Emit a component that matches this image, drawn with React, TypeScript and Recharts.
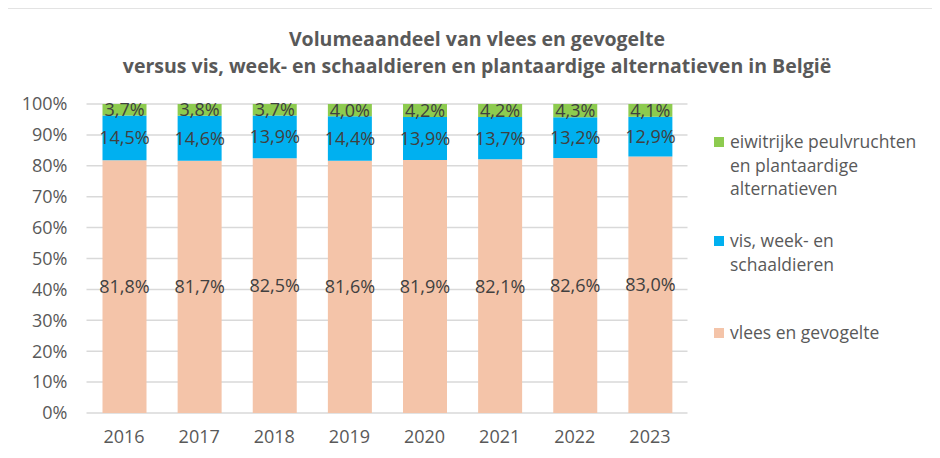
import { BarChart, Bar, XAxis, YAxis, CartesianGrid, LabelList } from "recharts";

// volume shares (%) per year
const years = ["2016", "2017", "2018", "2019", "2020", "2021", "2022", "2023"];
const vlees = [81.8, 81.7, 82.5, 81.6, 81.9, 82.1, 82.6, 83.0];
const vis = [14.5, 14.6, 13.9, 14.4, 13.9, 13.7, 13.2, 12.9];
const plant = [3.7, 3.8, 3.7, 4.0, 4.2, 4.2, 4.3, 4.1];
const yTicks = [0, 0.1, 0.2, 0.3, 0.4, 0.5, 0.6, 0.7, 0.8, 0.9, 1];

const COLORS = { vlees: "#F4C4A9", vis: "#00B0F0", plant: "#8DCB4F" };
const FONT = "'Open Sans', sans-serif";
const AXIS_GREY = "#595959";

const data = years.map((year, i) => ({
  year,
  vlees: vlees[i],
  vis: vis[i],
  plant: plant[i],
}));

const pct = (v: number) => `${Number(v).toFixed(1).replace(".", ",")}%`;

const legendItems = [
  { color: COLORS.plant, lines: ["eiwitrijke peulvruchten", "en plantaardige", "alternatieven"], top: 130 },
  { color: COLORS.vis, lines: ["vis, week- en", "schaaldieren"], top: 229 },
  { color: COLORS.vlees, lines: ["vlees en gevogelte"], top: 321 },
];

const labelStyle = { fontSize: 18, fill: "#404040", fontFamily: FONT };

export default function App() {
  return (
    <div
      style={{
        position: "relative",
        width: 940,
        height: 458,
        margin: "-8px 0 0 -8px",
        background: "#fff",
        fontFamily: FONT,
        overflow: "hidden",
      }}
    >
      <div
        style={{
          position: "absolute",
          left: 6,
          top: 7,
          width: 960,
          height: 480,
          borderTop: "2px solid #e3e3e3",
          borderLeft: "2px solid #e3e3e3",
        }}
      />
      <div
        style={{
          position: "absolute",
          left: 0,
          width: 954,
          top: 25,
          textAlign: "center",
          fontWeight: 700,
          fontSize: 19.5,
          lineHeight: "27px",
          color: AXIS_GREY,
        }}
      >
        Volumeaandeel van vlees en gevogelte
        <br />
        versus vis, week- en schaaldieren en plantaardige alternatieven in België
      </div>

      <div style={{ position: "absolute", left: 0, top: 0 }}>
        <BarChart
          width={940}
          height={458}
          data={data}
          stackOffset="expand"
          margin={{ top: 104, right: 252.5, bottom: 0, left: 0 }}
          barSize={44}
        >
          <CartesianGrid vertical={false} stroke="#d9d9d9" strokeWidth={1.5} />
          <XAxis
            dataKey="year"
            height={45}
            axisLine={false}
            tickLine={false}
            tickSize={0}
            tickMargin={17}
            tick={{ fontSize: 18, fill: AXIS_GREY, fontFamily: FONT }}
          />
          <YAxis
            width={86.5}
            domain={[0, 1]}
            ticks={yTicks}
            axisLine={false}
            tickLine={false}
            tickSize={0}
            tickMargin={19}
            tickFormatter={(v: number) => `${Math.round(v * 100)}%`}
            tick={{ fontSize: 18, fill: AXIS_GREY, fontFamily: FONT }}
          />
          <Bar dataKey="vlees" stackId="a" fill={COLORS.vlees} isAnimationActive={false}>
            <LabelList dataKey="vlees" position="center" formatter={pct} style={labelStyle} />
          </Bar>
          <Bar dataKey="vis" stackId="a" fill={COLORS.vis} isAnimationActive={false}>
            <LabelList dataKey="vis" position="center" formatter={pct} style={labelStyle} />
          </Bar>
          <Bar dataKey="plant" stackId="a" fill={COLORS.plant} isAnimationActive={false}>
            <LabelList dataKey="plant" position="center" formatter={pct} style={labelStyle} />
          </Bar>
        </BarChart>
      </div>

      {legendItems.map((item) => (
        <div
          key={item.color}
          style={{ position: "absolute", left: 714, top: item.top, fontSize: 17.5, lineHeight: "23.5px", color: AXIS_GREY }}
        >
          <span
            style={{
              position: "absolute",
              left: 0,
              top: 7,
              width: 10,
              height: 10,
              background: item.color,
            }}
          />
          <div style={{ marginLeft: 16, whiteSpace: "nowrap" }}>
            {item.lines.map((l) => (
              <div key={l}>{l}</div>
            ))}
          </div>
        </div>
      ))}
    </div>
  );
}
